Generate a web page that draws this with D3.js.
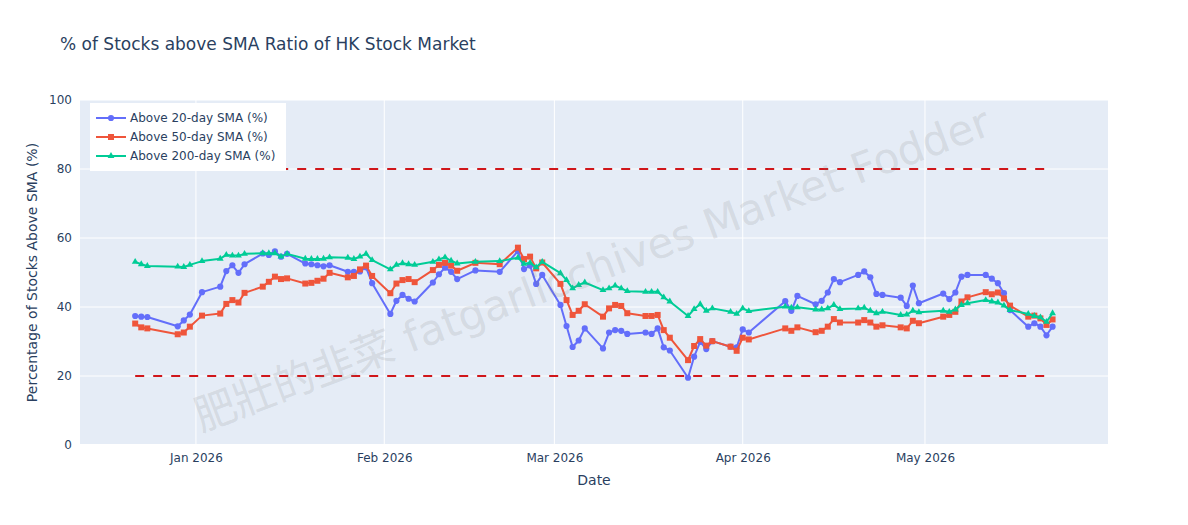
<!DOCTYPE html>
<html>
<head>
<meta charset="utf-8">
<script src="https://cdn.jsdelivr.net/npm/d3@7"></script>
<style>
  body { margin: 0; background: #fff; }
  text { font-family: "DejaVu Sans", verdana, arial, sans-serif; }
</style>
</head>
<body>
<svg width="1188" height="525"></svg>
<script>
var dates = [
  '2025-12-22', '2025-12-23', '2025-12-24', '2025-12-29', '2025-12-30', '2025-12-31',
  '2026-01-02', '2026-01-05', '2026-01-06', '2026-01-07', '2026-01-08', '2026-01-09',
  '2026-01-12', '2026-01-13', '2026-01-14', '2026-01-15', '2026-01-16',
  '2026-01-19', '2026-01-20', '2026-01-21', '2026-01-22', '2026-01-23',
  '2026-01-26', '2026-01-27', '2026-01-28', '2026-01-29', '2026-01-30',
  '2026-02-02', '2026-02-03', '2026-02-04', '2026-02-05', '2026-02-06',
  '2026-02-09', '2026-02-10', '2026-02-11', '2026-02-12', '2026-02-13',
  '2026-02-16', '2026-02-20',
  '2026-02-23', '2026-02-24', '2026-02-25', '2026-02-26', '2026-02-27',
  '2026-03-02', '2026-03-03', '2026-03-04', '2026-03-05', '2026-03-06',
  '2026-03-09', '2026-03-10', '2026-03-11', '2026-03-12', '2026-03-13',
  '2026-03-16', '2026-03-17', '2026-03-18', '2026-03-19', '2026-03-20',
  '2026-03-23', '2026-03-24', '2026-03-25', '2026-03-26', '2026-03-27',
  '2026-03-30', '2026-03-31', '2026-04-01', '2026-04-02',
  '2026-04-08', '2026-04-09', '2026-04-10',
  '2026-04-13', '2026-04-14', '2026-04-15', '2026-04-16', '2026-04-17',
  '2026-04-20', '2026-04-21', '2026-04-22', '2026-04-23', '2026-04-24',
  '2026-04-27', '2026-04-28', '2026-04-29', '2026-04-30',
  '2026-05-04', '2026-05-05', '2026-05-06', '2026-05-07', '2026-05-08',
  '2026-05-11', '2026-05-12', '2026-05-13', '2026-05-14', '2026-05-15',
  '2026-05-18', '2026-05-19', '2026-05-20', '2026-05-21', '2026-05-22'
];

var above20 = [
  37.4, 37.2, 37.1, 34.4, 36.1, 37.8,
  44.3, 45.9, 50.4, 52.1, 49.9, 52.4,
  55.5, 55.1, 56.1, 54.6, 55.4,
  52.6, 52.4, 52.1, 51.8, 52.1,
  50.2, 50.2, 50.3, 51.5, 46.9,
  38.0, 41.8, 43.5, 42.4, 41.6,
  47.1, 49.5, 51.4, 50.2, 48.1,
  50.6, 50.2,
  56.2, 51.0, 52.0, 46.7, 49.3,
  40.6, 34.5, 28.4, 30.3, 33.8,
  28.0, 32.6, 33.3, 33.1, 32.2,
  32.6, 32.2, 33.8, 28.3, 27.4,
  19.5, 25.6, 29.9, 27.8, 30.1,
  28.5, 28.3, 33.5, 32.6,
  41.7, 38.9, 43.2,
  40.8, 41.8, 44.2, 48.1, 47.2,
  49.3, 50.3, 48.6, 43.8, 43.5,
  42.7, 40.3, 46.2, 41.1,
  43.9, 42.3, 44.2, 48.8, 49.3,
  49.3, 48.2, 46.9, 44.0, 39.1,
  34.3, 35.3, 34.3, 31.8, 34.3
];

var above50 = [
  35.2, 34.1, 33.8, 32.1, 32.6, 34.3,
  37.5, 38.1, 40.9, 42.0, 41.3, 44.1,
  45.9, 47.3, 48.8, 48.1, 48.3,
  46.8, 47.0, 47.6, 48.2, 49.9,
  48.6, 49.0, 50.9, 52.0, 49.0,
  44.0, 46.8, 47.8, 48.1, 47.2,
  50.7, 52.2, 52.8, 52.0, 50.5,
  52.8, 52.4,
  57.2, 53.9, 54.6, 51.2, 52.9,
  46.7, 42.0, 37.7, 38.9, 40.8,
  37.2, 39.6, 40.6, 40.3, 38.2,
  37.4, 37.4, 37.7, 33.3, 31.1,
  24.6, 28.7, 30.7, 28.8, 30.1,
  28.5, 27.3, 31.1, 30.6,
  33.8, 33.1, 34.1,
  32.7, 33.1, 34.3, 36.5, 35.5,
  35.5, 36.2, 35.5, 34.3, 34.7,
  34.1, 33.8, 36.0, 35.3,
  37.2, 37.7, 38.6, 41.6, 42.8,
  44.3, 43.7, 44.2, 42.5, 40.4,
  37.2, 37.5, 36.7, 34.8, 36.4
];

var above200 = [
  53.1, 52.4, 51.9, 51.7, 51.6, 52.2,
  53.3, 54.0, 55.1, 54.9, 54.9, 55.4,
  55.6, 55.6, 55.6, 54.6, 55.4,
  54.0, 53.9, 53.9, 54.0, 54.4,
  54.3, 53.9, 54.6, 55.4, 53.6,
  50.9, 52.2, 52.7, 52.4, 52.2,
  53.1, 53.8, 54.4, 53.4, 52.6,
  53.1, 53.3,
  54.3, 52.5, 52.8, 51.5, 53.1,
  49.8, 47.8, 45.4, 46.4, 47.1,
  44.9, 45.4, 46.2, 45.4, 44.6,
  44.4, 44.4, 44.4, 42.8, 41.6,
  37.4, 39.4, 40.8, 38.9, 39.6,
  38.6, 38.0, 39.6, 38.8,
  40.1, 39.8, 39.9,
  39.3, 39.3, 39.6, 40.6, 39.4,
  39.6, 39.8, 38.9, 38.2, 38.6,
  37.7, 37.8, 38.9, 38.5,
  38.9, 38.6, 39.3, 40.6, 41.1,
  42.0, 41.6, 41.3, 40.4, 39.1,
  38.0, 37.4, 37.0, 35.7, 38.2
];

var seriesNames = ['Above 20-day SMA (%)', 'Above 50-day SMA (%)', 'Above 200-day SMA (%)'];
var seriesColors = ['#636efa', '#EF553B', '#00cc96'];
var seriesSymbols = [d3.symbolCircle, d3.symbolSquare, d3.symbolTriangle];
var symbolSizes = [30, 36, 20];
var thresholds = [80, 20];
var yTicks = [0, 20, 40, 60, 80, 100];

var svg = d3.select('svg'),
  width = +svg.attr('width'),
  height = +svg.attr('height');

var margin = { left: 80, right: 80, top: 100, bottom: 80 };
var plotW = width - margin.left - margin.right,
  plotH = height - margin.top - margin.bottom;

var parse = d3.timeParse('%Y-%m-%d');
var xDates = dates.map(parse);

var x = d3
  .scaleTime()
  .domain([new Date(2025, 11, 12, 22), new Date(2026, 4, 31, 3)])
  .range([margin.left, margin.left + plotW]);
var y = d3
  .scaleLinear()
  .domain([0, 100])
  .range([margin.top + plotH, margin.top]);

// plot background
svg
  .append('rect')
  .attr('x', margin.left)
  .attr('y', margin.top)
  .attr('width', plotW)
  .attr('height', plotH)
  .attr('fill', '#E5ECF6');

var xTicks = [new Date(2026, 0, 1), new Date(2026, 1, 1), new Date(2026, 2, 1), new Date(2026, 3, 1), new Date(2026, 4, 1)];

// grid
svg
  .append('g')
  .selectAll('line')
  .data(xTicks)
  .enter()
  .append('line')
  .attr('x1', d => x(d))
  .attr('x2', d => x(d))
  .attr('y1', margin.top)
  .attr('y2', margin.top + plotH)
  .style('stroke', '#fff')
  .style('stroke-width', 1);

svg
  .append('g')
  .selectAll('line')
  .data(yTicks)
  .enter()
  .append('line')
  .attr('x1', margin.left)
  .attr('x2', margin.left + plotW)
  .attr('y1', d => y(d))
  .attr('y2', d => y(d))
  .style('stroke', '#fff')
  .style('stroke-width', d => (d === 0 ? 2 : 1));

// axes labels
var xAxis = svg
  .append('g')
  .attr('transform', 'translate(0,' + (margin.top + plotH) + ')')
  .call(
    d3
      .axisBottom(x)
      .tickValues(xTicks)
      .tickFormat(d3.timeFormat('%b %Y'))
      .tickSize(0)
      .tickPadding(8)
  );
xAxis.select('.domain').remove();
xAxis
  .selectAll('text')
  .style('font-size', '12px')
  .style('fill', '#2a3f5f')
  .style('font-family', '"DejaVu Sans", verdana, arial, sans-serif');

var yAxis = svg
  .append('g')
  .attr('transform', 'translate(' + margin.left + ',0)')
  .call(
    d3
      .axisLeft(y)
      .tickValues(yTicks)
      .tickSize(0)
      .tickPadding(8)
  );
yAxis.select('.domain').remove();
yAxis
  .selectAll('text')
  .style('font-size', '12px')
  .style('fill', '#2a3f5f')
  .style('font-family', '"DejaVu Sans", verdana, arial, sans-serif');

// threshold lines
svg
  .append('g')
  .selectAll('line')
  .data(thresholds)
  .enter()
  .append('line')
  .attr('x1', x(xDates[0]))
  .attr('x2', x(xDates[xDates.length - 1]))
  .attr('y1', d => y(d))
  .attr('y2', d => y(d))
  .style('stroke', '#d0161a')
  .style('stroke-width', 2)
  .style('stroke-dasharray', '9,9');

// series
var allSeries = [above20, above50, above200];
var line = d3
  .line()
  .x(d => x(d.date))
  .y(d => y(d.value));

allSeries.forEach(function(values, i) {
  var pts = values.map(function(v, j) {
    return { date: xDates[j], value: v };
  });
  var g = svg.append('g');
  g.append('path')
    .datum(pts)
    .attr('d', line)
    .style('fill', 'none')
    .style('stroke', seriesColors[i])
    .style('stroke-width', 2)
    .style('stroke-linejoin', 'round');
  g.selectAll('path.pt')
    .data(pts)
    .enter()
    .append('path')
    .attr('class', 'pt')
    .attr('d', d3.symbol().type(seriesSymbols[i]).size(symbolSizes[i]))
    .attr('transform', d => 'translate(' + x(d.date) + ',' + y(d.value) + ')')
    .style('fill', seriesColors[i]);
});

// watermark
svg
  .append('text')
  .attr('transform', 'translate(593,272) rotate(-20.6)')
  .attr('text-anchor', 'middle')
  .attr('dominant-baseline', 'middle')
  .style('font-size', '42px')
  .style('fill', 'rgba(128,128,128,0.18)')
  .style('font-family', '"DejaVu Sans", "Noto Sans CJK SC", sans-serif')
  .text('肥壯的韭菜 fatgarlicchives Market Fodder');

// legend
var legend = svg.append('g').attr('transform', 'translate(90,103)');
legend
  .append('rect')
  .attr('width', 196)
  .attr('height', 68)
  .attr('fill', '#fff');
seriesNames.forEach(function(name, i) {
  var row = legend.append('g').attr('transform', 'translate(0,' + (15 + i * 19) + ')');
  row
    .append('line')
    .attr('x1', 6)
    .attr('x2', 36)
    .style('stroke', seriesColors[i])
    .style('stroke-width', 2);
  row
    .append('path')
    .attr('d', d3.symbol().type(seriesSymbols[i]).size(symbolSizes[i]))
    .attr('transform', 'translate(21,0)')
    .style('fill', seriesColors[i]);
  row
    .append('text')
    .attr('x', 40)
    .attr('dy', '0.35em')
    .style('font-size', '12px')
    .style('fill', '#2a3f5f')
    .text(name);
});

// titles
svg
  .append('text')
  .attr('x', 60)
  .attr('y', 50)
  .style('font-size', '17px')
  .style('fill', '#2a3f5f')
  .text('% of Stocks above SMA Ratio of HK Stock Market');

svg
  .append('text')
  .attr('x', margin.left + plotW / 2)
  .attr('y', 485)
  .attr('text-anchor', 'middle')
  .style('font-size', '14px')
  .style('fill', '#2a3f5f')
  .text('Date');

svg
  .append('text')
  .attr('transform', 'translate(37,' + (margin.top + plotH / 2) + ') rotate(-90)')
  .attr('text-anchor', 'middle')
  .style('font-size', '14px')
  .style('fill', '#2a3f5f')
  .text('Percentage of Stocks Above SMA (%)');
</script>
</body>
</html>
